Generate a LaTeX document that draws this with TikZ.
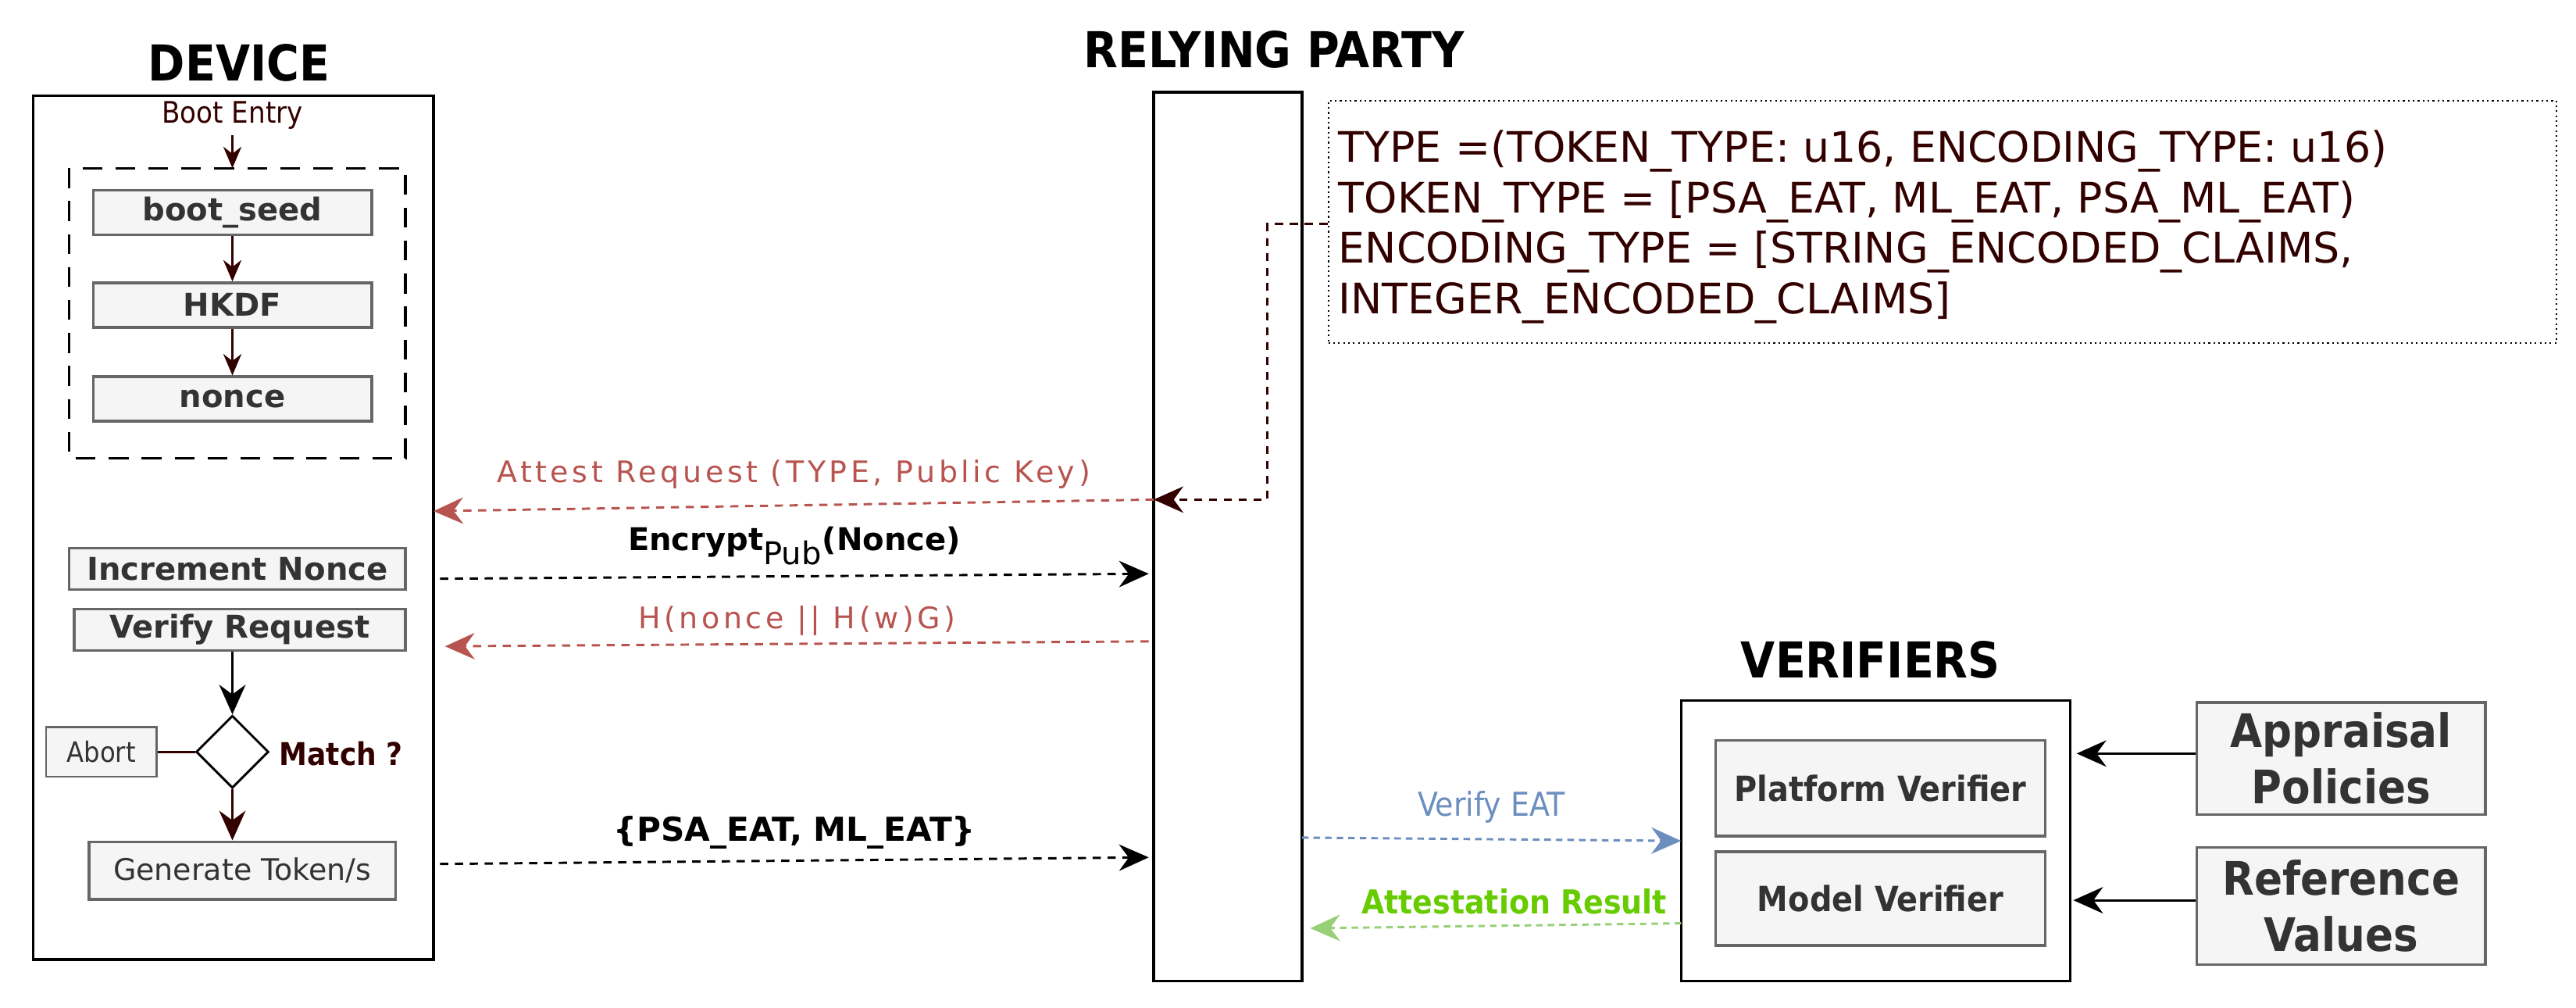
\documentclass[tikz,border=0pt]{standalone}
\usepackage{fontspec}
\setmainfont{DejaVu Sans}
\newfontfamily\cond{DejaVu Sans Condensed}
\newfontfamily\spaced{DejaVu Sans}[LetterSpace=12]
\usetikzlibrary{arrows.meta,shapes.geometric}
\definecolor{dred}{HTML}{330000}
\definecolor{rred}{HTML}{B85450}
\definecolor{bblue}{HTML}{6C8EBF}
\definecolor{ggreen}{HTML}{66CC00}
\definecolor{lgreen}{HTML}{97D077}
\definecolor{boxf}{HTML}{F5F5F5}
\definecolor{boxd}{HTML}{666666}
\definecolor{txt}{HTML}{333333}
\tikzset{
 gbox/.style={draw=boxd,fill=boxf,line width=1.6pt,text=txt,inner sep=0pt},
 big/.style={draw=black,line width=1.6pt},
 title/.style={font=\cond\fontsize{30}{32}\selectfont\bfseries},
 arr/.style={-{Stealth[length=18pt,width=16pt]},line width=1.4pt},
 sarr/.style={-{Stealth[length=13pt,width=11pt]},line width=1.4pt},
 darr/.style={arr,dash pattern=on 5pt off 4pt},
}
\begin{document}
\begin{tikzpicture}[x=1pt,y=-1pt]
\useasboundingbox (0,0) rectangle (1563,611);
% DEVICE
\node[title] (devt) at (145,38) {DEVICE};
\draw[big] (20,58) rectangle (263,582);
\node[text=dred,font=\cond\fontsize{18}{19}\selectfont] (boot) at (141,70) {Boot Entry};
\draw[dash pattern=on 12pt off 8pt,line width=1.6pt] (42,102) rectangle (246,278);
\coordinate (dtop) at (141,102);
\node[gbox,minimum width=169pt,minimum height=27pt,font=\fontsize{19}{20}\selectfont\bfseries] (seed) at (141,129) {boot\_seed};
\node[gbox,minimum width=169pt,minimum height=27pt,font=\fontsize{19}{20}\selectfont\bfseries] (hkdf) at (141,185) {HKDF};
\node[gbox,minimum width=169pt,minimum height=27pt,font=\fontsize{19}{20}\selectfont\bfseries] (nonce) at (141,242) {nonce};
\draw[sarr,dred] (boot.south) -- (dtop);
\draw[sarr,dred] (seed) -- (hkdf);
\draw[sarr,dred] (hkdf) -- (nonce);
\node[gbox,minimum width=204pt,minimum height=25pt,font=\fontsize{19}{20}\selectfont\bfseries] (inc) at (144,345) {Increment Nonce};
\node[gbox,minimum width=201pt,minimum height=25pt,font=\fontsize{19}{20}\selectfont\bfseries] (ver) at (145.5,382) {Verify Request};
\node[diamond,draw,line width=1.4pt,minimum width=44pt,minimum height=44pt,inner sep=0pt,fill=white] (dia) at (141,456) {};
\node[text=dred,font=\cond\fontsize{19}{20}\selectfont\bfseries,anchor=west] (match) at (166,457) {Match ?};
\node[gbox,minimum width=67pt,minimum height=30pt,font=\cond\fontsize{17}{18}\selectfont,line width=1.2pt] (abort) at (61.5,456) {Abort};
\node[gbox,minimum width=186pt,minimum height=35pt,font=\fontsize{18}{19}\selectfont] (gen) at (147,528) {Generate Token/s};
\draw[arr] (ver.south -| dia) -- (dia.north);
\draw[dred,line width=1.4pt] (dia.west) -- (abort.east);
\draw[arr,dred] (dia.south) -- (gen.north -| dia);
% RELYING PARTY
\node[title] (rpt) at (773,30) {RELYING PARTY};
\draw[big] (700,56) rectangle (790,595);
\coordinate (rpL1) at (700,303);
\coordinate (rpL2) at (697,348);
\coordinate (rpL3) at (697,389);
\coordinate (rpL4) at (697,520);
\coordinate (devR1) at (263,310);
\coordinate (devR2) at (267,351);
\coordinate (devR3) at (270,392);
\coordinate (devR4) at (267,524);
\node[draw,dotted,line width=1pt,minimum width=745pt,minimum height=147pt,inner sep=0pt] (note) at (1178.5,134.5) {};
\node[anchor=north west,text=dred,font=\fontsize{25.5}{30.5}\selectfont,align=left,inner sep=0pt] (notet) at (812,79)
 {TYPE =(TOKEN\_TYPE: u16, ENCODING\_TYPE: u16)\\TOKEN\_TYPE = [PSA\_EAT, ML\_EAT, PSA\_ML\_EAT)\\ENCODING\_TYPE = [STRING\_ENCODED\_CLAIMS,\\INTEGER\_ENCODED\_CLAIMS]};
\draw[darr,dred] (note.west |- 0,136) -- (769,136) -- (769,303) -- (rpL1);
\draw[darr,rred] (rpL1) -- node[above=6pt,font=\spaced\fontsize{18}{20}\selectfont,text=rred]{Attest Request (TYPE, Public Key)} (devR1);
\draw[darr] (devR2) -- node[above=3pt,font=\fontsize{19}{20}\selectfont\bfseries,text=black]{Encrypt\textsubscript{\normalfont\fontsize{19}{20}\selectfont Pub}(Nonce)} (rpL2);
\draw[darr,rred] (rpL3) -- node[above=1pt,font=\spaced\fontsize{18}{20}\selectfont,text=rred]{H(nonce || H(w)G)} (devR3);
\draw[darr] (devR4) -- node[above=3pt,font=\fontsize{20}{21}\selectfont\bfseries,text=black]{\{PSA\_EAT, ML\_EAT\}} (rpL4);
% VERIFIERS
\node[title] (vt) at (1135,400) {VERIFIERS};
\draw[big] (1020,425) rectangle (1256,595);
\coordinate (vL1) at (1020,510);
\coordinate (vL2) at (1020,560);
\coordinate (rpR1) at (790,508);
\coordinate (rpR2) at (795,563);
\node[gbox,minimum width=200pt,minimum height=58pt,font=\cond\fontsize{21}{22}\selectfont\bfseries] (pv) at (1141,478) {Platform Verifier};
\node[gbox,minimum width=200pt,minimum height=57pt,font=\cond\fontsize{21}{22}\selectfont\bfseries] (mv) at (1141,545) {Model Verifier};
\node[gbox,minimum width=175pt,minimum height=68pt,font=\cond\fontsize{28}{34}\selectfont\bfseries,align=center] (ap) at (1420.5,460) {Appraisal\\Policies};
\node[gbox,minimum width=175pt,minimum height=71pt,font=\cond\fontsize{28}{34}\selectfont\bfseries,align=center] (rv) at (1420.5,549.5) {Reference\\Values};
\coordinate (vR1) at (1260,457);
\coordinate (vR2) at (1258,546);
\draw[arr] (ap.west |- vR1) -- (vR1);
\draw[arr] (rv.west |- vR2) -- (vR2);
\draw[darr,bblue,dash pattern=on 4pt off 3pt] (rpR1) -- node[above=6pt,font=\cond\fontsize{20}{21}\selectfont,text=bblue]{Verify EAT} (vL1);
\draw[darr,lgreen,dash pattern=on 4pt off 3pt] (vL2) -- node[above=3pt,pos=0.45,font=\cond\fontsize{20}{21}\selectfont\bfseries,text=ggreen]{Attestation Result} (rpR2);
\end{tikzpicture}
\end{document}
